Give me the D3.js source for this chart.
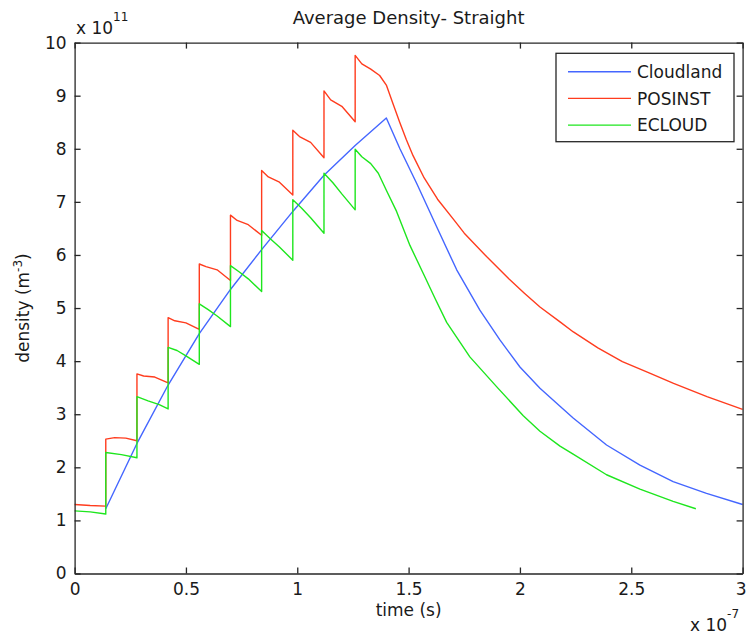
<!DOCTYPE html>
<html>
<head>
<meta charset="utf-8">
<script src="https://d3js.org/d3.v7.min.js"></script>
<style>
  html, body { margin: 0; padding: 0; background: #fff; }
  svg text { font-family: "DejaVu Sans", sans-serif; fill: #1a1a1a; }
</style>
</head>
<body>
<svg id="chart" width="747" height="636"></svg>
<script>
// ---- data (time in 1e-7 s, density in 1e11 m^-3) ----
const titleText = "Average Density- Straight";
const xLabelText = "time (s)";
const seriesNames = ["Cloudland", "POSINST", "ECLOUD"];
const seriesColors = ["#4466ff", "#ff3c1e", "#1ee61e"];
const xTicks = [0, 0.5, 1, 1.5, 2, 2.5, 3];
const yTicks = [0, 1, 2, 3, 4, 5, 6, 7, 8, 9, 10];

const cloudlandT = [0.14, 0.28, 0.42, 0.56, 0.70, 0.84, 0.98, 1.12, 1.26, 1.40, 1.461, 1.536, 1.626, 1.716, 1.82, 1.91, 2.0, 2.09, 2.18, 2.239, 2.389, 2.539, 2.688, 2.838, 3.0];
const cloudlandD = [1.22, 2.45, 3.55, 4.52, 5.35, 6.10, 6.82, 7.50, 8.06, 8.58, 8.00, 7.35, 6.53, 5.72, 4.96, 4.40, 3.89, 3.49, 3.15, 2.93, 2.42, 2.04, 1.73, 1.51, 1.30];

const posinstT = [0, 0.07, 0.14, 0.14, 0.18, 0.23, 0.28, 0.28, 0.31, 0.36, 0.42, 0.42, 0.45, 0.50, 0.56, 0.56, 0.59, 0.64, 0.70, 0.70, 0.73, 0.78, 0.84, 0.84, 0.87, 0.92, 0.98, 0.98, 1.01, 1.06, 1.12, 1.12, 1.15, 1.20, 1.26, 1.26, 1.29, 1.33, 1.37, 1.40, 1.43, 1.46, 1.49, 1.52, 1.57, 1.63, 1.70, 1.75, 1.85, 1.95, 2.02, 2.09, 2.18, 2.24, 2.35, 2.46, 2.58, 2.69, 2.84, 3.0];
const posinstD = [1.30, 1.28, 1.27, 2.53, 2.56, 2.55, 2.50, 3.76, 3.72, 3.70, 3.59, 4.82, 4.76, 4.72, 4.60, 5.83, 5.78, 5.72, 5.52, 6.75, 6.65, 6.57, 6.37, 7.59, 7.47, 7.37, 7.13, 8.35, 8.23, 8.12, 7.83, 9.09, 8.92, 8.80, 8.51, 9.76, 9.60, 9.50, 9.38, 9.20, 8.85, 8.50, 8.17, 7.87, 7.45, 7.05, 6.68, 6.41, 5.97, 5.55, 5.28, 5.02, 4.74, 4.55, 4.25, 3.99, 3.78, 3.58, 3.33, 3.09];

const ecloudT = [0, 0.07, 0.14, 0.14, 0.21, 0.28, 0.28, 0.33, 0.38, 0.42, 0.42, 0.46, 0.50, 0.56, 0.56, 0.60, 0.64, 0.70, 0.70, 0.74, 0.78, 0.84, 0.84, 0.88, 0.92, 0.98, 0.98, 1.02, 1.06, 1.12, 1.12, 1.16, 1.20, 1.26, 1.26, 1.29, 1.33, 1.364, 1.40, 1.446, 1.506, 1.566, 1.62, 1.671, 1.775, 1.895, 2.015, 2.09, 2.18, 2.239, 2.389, 2.539, 2.688, 2.79];
const ecloudD = [1.18, 1.16, 1.12, 2.28, 2.24, 2.18, 3.33, 3.25, 3.18, 3.10, 4.26, 4.20, 4.10, 3.94, 5.08, 4.97, 4.85, 4.65, 5.80, 5.68, 5.55, 5.31, 6.46, 6.30, 6.15, 5.90, 7.04, 6.88, 6.70, 6.41, 7.54, 7.36, 7.15, 6.85, 7.99, 7.85, 7.72, 7.54, 7.22, 6.82, 6.18, 5.65, 5.17, 4.73, 4.08, 3.52, 2.97, 2.68, 2.40, 2.25, 1.86, 1.59, 1.36, 1.22];

// ---- layout ----
const svg = d3.select("#chart");
const pL = 74.6, pR = 742.6, pT = 42.6, pB = 573.5;
const x = d3.scaleLinear().domain([0, 3]).range([pL, pR]);
const y = d3.scaleLinear().domain([0, 10]).range([pB, pT]);
const axisColor = "#262626";
const fs = 17;

function styleAxis(g) {
  g.selectAll("path.domain").attr("stroke", axisColor).attr("stroke-width", 1.3);
  g.selectAll(".tick line").attr("stroke", axisColor).attr("stroke-width", 1.3);
  g.selectAll(".tick text").attr("font-size", fs).attr("font-family", "DejaVu Sans").attr("fill", "#1a1a1a");
}

svg.append("rect").attr("x", pL).attr("y", pT).attr("width", pR - pL).attr("height", pB - pT).attr("fill", "#fff");

// lines
const series = [
  { name: seriesNames[0], t: cloudlandT, d: cloudlandD, color: seriesColors[0] },
  { name: seriesNames[1], t: posinstT, d: posinstD, color: seriesColors[1] },
  { name: seriesNames[2], t: ecloudT, d: ecloudD, color: seriesColors[2] }
];
const line = d3.line().x(p => x(p[0])).y(p => y(p[1]));
const plot = svg.append("g");
series.forEach(s => {
  plot.append("path")
    .datum(s.t.map((t, i) => [t, s.d[i]]))
    .attr("d", line)
    .attr("fill", "none")
    .attr("stroke", s.color)
    .attr("stroke-width", 1.4)
    .attr("stroke-linejoin", "round");
});

// axes
const gx = svg.append("g").attr("transform", `translate(0,${pB})`)
  .call(d3.axisBottom(x).tickValues(xTicks).tickFormat(d3.format("")).tickSizeInner(-6).tickSizeOuter(0).tickPadding(9));
styleAxis(gx);
gx.selectAll(".tick text").filter(d => d === 3).attr("dx", -2);
const gy = svg.append("g").attr("transform", `translate(${pL},0)`)
  .call(d3.axisLeft(y).tickValues(yTicks).tickFormat(d3.format("")).tickSizeInner(-6).tickSizeOuter(0).tickPadding(8));
styleAxis(gy);
const gxt = svg.append("g").attr("transform", `translate(0,${pT})`)
  .call(d3.axisTop(x).tickValues(xTicks).tickFormat("").tickSizeInner(-6).tickSizeOuter(0));
styleAxis(gxt);
const gyr = svg.append("g").attr("transform", `translate(${pR},0)`)
  .call(d3.axisRight(y).tickValues(yTicks).tickFormat("").tickSizeInner(-6).tickSizeOuter(0));
styleAxis(gyr);

// title & labels
svg.append("text").attr("x", (pL + pR) / 2).attr("y", 24).attr("text-anchor", "middle")
  .attr("font-size", 18).text(titleText);
svg.append("text").attr("x", (pL + pR) / 2).attr("y", 616).attr("text-anchor", "middle")
  .attr("font-size", fs).text(xLabelText);
const yl = svg.append("text").attr("transform", `translate(29,${(pT + pB) / 2}) rotate(-90)`)
  .attr("text-anchor", "middle").attr("font-size", fs);
yl.append("tspan").text("density (m");
yl.append("tspan").attr("dy", -7).attr("font-size", 12).text("-3");
yl.append("tspan").attr("dy", 7).text(")");

// exponent labels
const e1 = svg.append("text").attr("x", 76).attr("y", 34).attr("font-size", fs);
e1.append("tspan").text("x 10");
e1.append("tspan").attr("dy", -13).attr("font-size", 12).text("11");
const e2 = svg.append("text").attr("x", 690).attr("y", 631).attr("font-size", fs);
e2.append("tspan").text("x 10");
e2.append("tspan").attr("dy", -13).attr("font-size", 12).text("-7");

// legend
const lg = svg.append("g");
lg.append("rect").attr("x", 556).attr("y", 53.3).attr("width", 178).attr("height", 88.4)
  .attr("fill", "#fff").attr("stroke", axisColor).attr("stroke-width", 1.3);
series.forEach((s, i) => {
  const yy = 71.7 + i * 26.7;
  lg.append("line").attr("x1", 568).attr("x2", 631).attr("y1", yy).attr("y2", yy)
    .attr("stroke", s.color).attr("stroke-width", 1.4);
  lg.append("text").attr("x", 637).attr("y", yy + 6.2).attr("font-size", fs).text(s.name);
});
</script>
</body>
</html>
